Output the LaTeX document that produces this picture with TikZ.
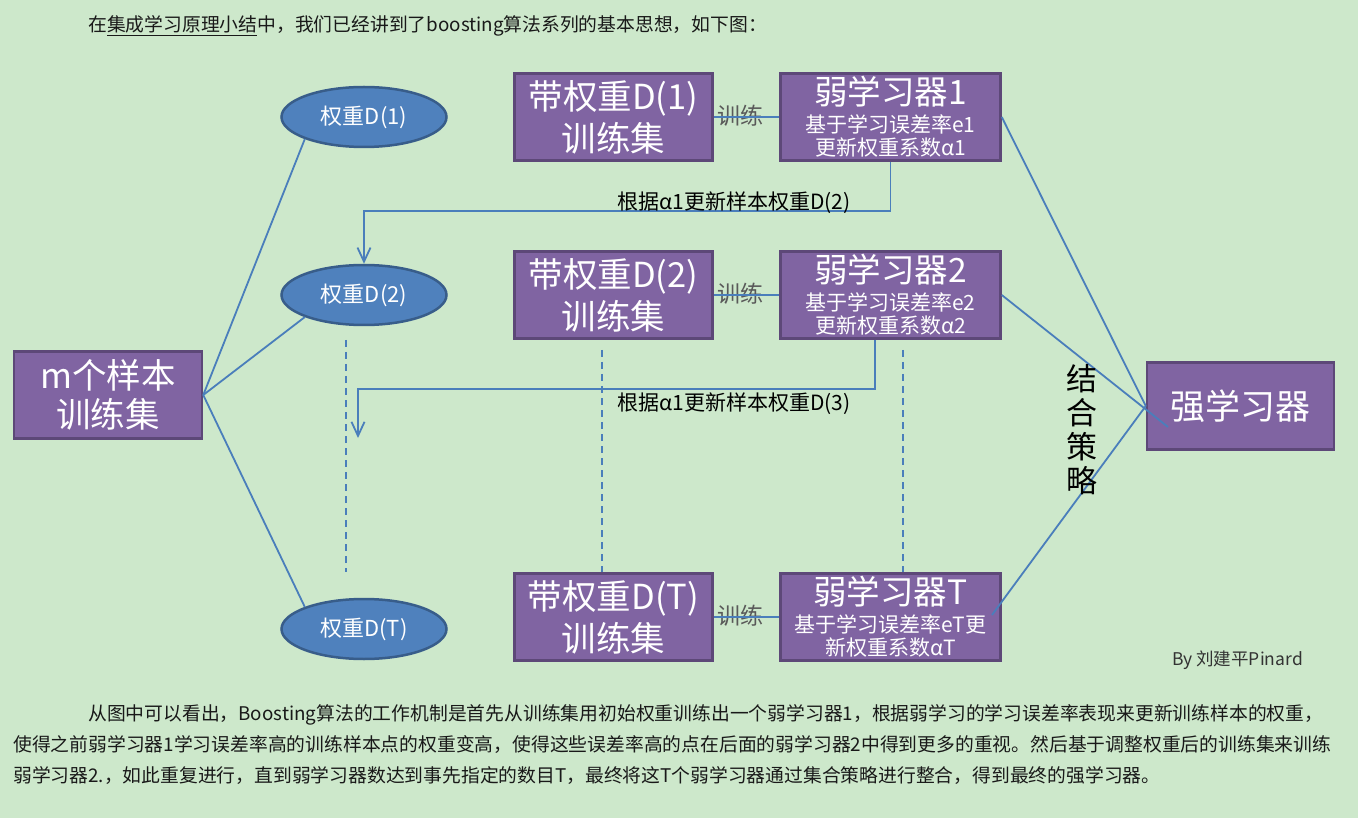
\documentclass[tikz,border=0pt]{standalone}
\usepackage{fontspec}
\setmainfont{Noto Sans CJK SC}
\usetikzlibrary{shapes.geometric,arrows.meta,positioning}

\definecolor{bggreen}{RGB}{205,232,203}
\definecolor{boxfill}{RGB}{128,100,162}
\definecolor{boxline}{RGB}{93,72,120}
\definecolor{ellfill}{RGB}{79,129,189}
\definecolor{ellline}{RGB}{56,93,138}
\definecolor{linkblue}{RGB}{74,126,187}

\newcommand{\boxfont}{\fontsize{34.5}{42}\selectfont}
\newcommand{\titlefont}{\fontsize{33.5}{34}\selectfont}
\newcommand{\subfont}{\fontsize{21}{23}\selectfont}
\newcommand{\ellfont}{\fontsize{22}{24}\selectfont}
\newcommand{\bodyfont}{\fontsize{18.8}{22}\selectfont}
\newcommand{\notefont}{\fontsize{21}{24}\selectfont}
\newcommand{\combfont}{\fontsize{31}{34}\selectfont}

\begin{document}
\begin{tikzpicture}[x=1pt,y=-1pt,
    trainbox/.style={draw=boxline, fill=boxfill, line width=2.5pt, minimum width=198pt,
        minimum height=87pt, inner sep=0pt, text=white, align=center, font=\boxfont},
    learnbox/.style={trainbox, minimum width=220pt, font=\subfont},
    weightnode/.style={ellipse, draw=ellline, fill=ellfill, line width=2.5pt, minimum width=165pt,
        minimum height=60pt, inner sep=0pt, text=white, font=\ellfont},
    link/.style={draw=linkblue, line width=1.8pt},
    feedback/.style={link, -{Straight Barb[length=14pt,width=13pt]}},
    guide/.style={draw=linkblue, line width=2pt, dash pattern=on 7pt off 5pt},
    note/.style={font=\notefont, text=black, inner sep=0pt},
    trainlabel/.style={font=\fontsize{23}{24}\selectfont, text=black!65, inner sep=0pt},
    bodytext/.style={anchor=base west, font=\bodyfont, text=black!90, inner sep=0pt}]

\fill[bggreen] (0,0) rectangle (1358,818);
\useasboundingbox (0,0) rectangle (1358,818);

\node[bodytext] (intro) at (88,32) {在\underline{集成学习原理小结}中，我们已经讲到了boosting算法系列的基本思想，如下图：};

\node[trainbox, minimum width=188pt, font=\fontsize{34.5}{39}\selectfont] (samples) at (108,395) {m个样本\\训练集};

\node[weightnode] (dw1) at (364,117) {权重D(1)};
\node[weightnode] (dw2) at (364,295) {权重D(2)};
\node[weightnode] (dwT) at (364,629) {权重D(T)};

\node[trainbox] (set1) at (613.5,117) {带权重D(1)\\训练集};
\node[trainbox] (set2) at (613.5,295) {带权重D(2)\\训练集};
\node[trainbox] (setT) at (613.5,617) {带权重D(T)\\训练集};

\node[learnbox] (weak1) at (890.5,117) {{\titlefont 弱学习器1}\\[5pt]基于学习误差率e1\\更新权重系数α1};
\node[learnbox] (weak2) at (890.5,295) {{\titlefont 弱学习器2}\\[5pt]基于学习误差率e2\\更新权重系数α2};
\node[learnbox] (weakT) at (890.5,617) {{\titlefont 弱学习器T}\\[5pt]基于学习误差率eT更\\新权重系数αT};

\node[trainbox, minimum width=187pt, font=\fontsize{35}{40}\selectfont] (strong) at (1240.5,406) {强学习器};

\draw[link] (samples.east) -- (dw1.south west);
\draw[link] (samples.east) -- (dw2.south west);
\draw[link] (samples.east) -- (dwT.north west);

\node[trainlabel] (train1) at (740,116) {训练};
\node[trainlabel] (train2) at (740,294) {训练};
\node[trainlabel] (trainT) at (740,616) {训练};
\draw[link] (set1.east) -- (weak1.west);
\draw[link] (set2.east) -- (weak2.west);
\draw[link] (setT.east) -- (weakT.west);

\coordinate (in2) at (1168,427);
\coordinate (outT) at (992,615);
\draw[link] (weak1.east) -- (strong.west);
\draw[link] (weak2.east) -- (in2);
\draw[link] (outT) -- (strong.west);

\coordinate (turn1) at (890.5,211);
\draw[feedback] (weak1.south) -- (turn1) -| (dw2.north);
\node[note] (update1) at (734,203) {根据α1更新样本权重D(2)};

\coordinate (turn2) at (875,389);
\coordinate (end2) at (358,438);
\draw[feedback] (turn2 |- weak2.south) -- (turn2) -| (end2);
\node[note] (update2) at (734,404) {根据α1更新样本权重D(3)};

\coordinate (gapA) at (346,340);
\coordinate (gapB) at (346,572);
\draw[guide] (gapA) -- (gapB);
\coordinate (gapC) at (602,350);
\draw[guide] (gapC) -- (gapC |- setT.north);
\coordinate (gapD) at (903,350);
\draw[guide] (gapD) -- (gapD |- weakT.north);

\node[font=\combfont, align=center, inner sep=0pt] (combine) at (1082,430) {结\\合\\策\\略};

\node[anchor=base west, font=\fontsize{17.5}{20}\selectfont, text=black!80, inner sep=0pt] (credit) at (1172,665) {By 刘建平Pinard};

\node[bodytext] (para1) at (88,720) {从图中可以看出，Boosting算法的工作机制是首先从训练集用初始权重训练出一个弱学习器1，根据弱学习的学习误差率表现来更新训练样本的权重，};
\node[bodytext] (para2) at (13,751) {使得之前弱学习器1学习误差率高的训练样本点的权重变高，使得这些误差率高的点在后面的弱学习器2中得到更多的重视。然后基于调整权重后的训练集来训练};
\node[bodytext] (para3) at (13,782) {弱学习器2.，如此重复进行，直到弱学习器数达到事先指定的数目T，最终将这T个弱学习器通过集合策略进行整合，得到最终的强学习器。};
\end{tikzpicture}
\end{document}
